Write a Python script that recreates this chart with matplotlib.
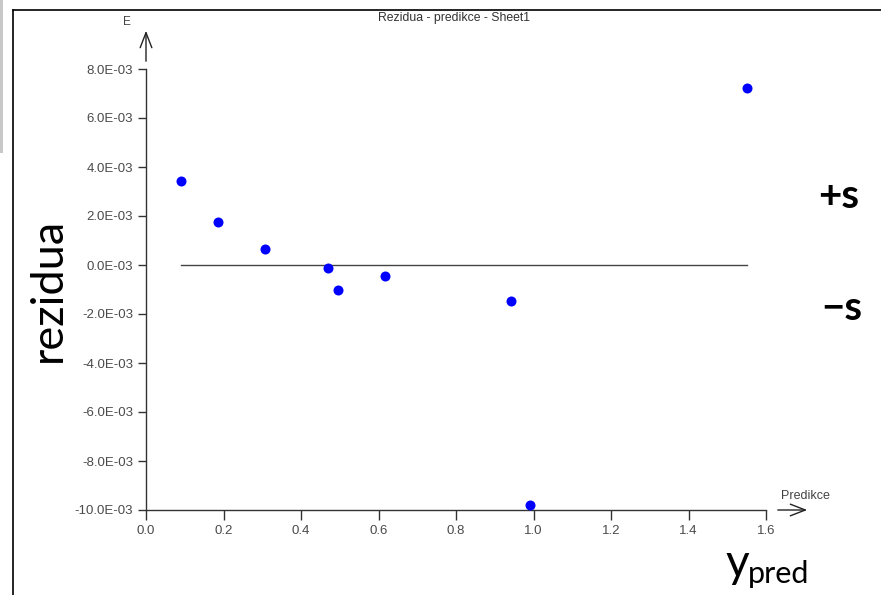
import matplotlib; matplotlib.use("Agg")
import matplotlib.pyplot as plt
from matplotlib.lines import Line2D
from matplotlib.patches import Rectangle, FancyArrowPatch

# residuals vs predicted values
y_pred = [0.090, 0.186, 0.307, 0.470, 0.495, 0.617, 0.942, 0.991, 1.551]
resid = [3.43e-3, 1.76e-3, 0.65e-3, -0.12e-3, -1.02e-3, -0.45e-3, -1.47e-3, -9.80e-3, 7.22e-3]
xticks = [0.0, 0.2, 0.4, 0.6, 0.8, 1.0, 1.2, 1.4, 1.6]
yticks = [-10e-3, -8e-3, -6e-3, -4e-3, -2e-3, 0.0, 2e-3, 4e-3, 6e-3, 8e-3]

W, H = 881, 595
def fx(px): return px / W
def fy(py): return 1 - py / H

fig = plt.figure(figsize=(W / 100, H / 100), dpi=100)
ax = fig.add_axes([fx(146), fy(510), fx(766) - fx(146), fy(69) - fy(510)])
ax.set_xlim(0, 1.6); ax.set_ylim(-10e-3, 8e-3)
for s in ("top", "right"): ax.spines[s].set_visible(False)
for s in ("left", "bottom"): ax.spines[s].set_color("#333333"); ax.spines[s].set_linewidth(1.0)

ax.plot([min(y_pred), max(y_pred)], [0, 0], color="#444444", lw=1.0, zorder=2)
ax.scatter(y_pred, resid, s=52, color="#0000ff", zorder=3, clip_on=False, linewidths=0)

tf = dict(family="Liberation Sans", size=9.5, color="#4a4a4a")
ax.set_xticks(xticks); ax.set_xticklabels(["%.1f" % v for v in xticks], **tf)
ax.set_yticks(yticks); ax.set_yticklabels(["%.1fE-03" % (v * 1000) for v in yticks], **tf)
ax.tick_params(axis="x", length=7.5, width=1, color="#333333", pad=3)
ax.tick_params(axis="y", length=5.8, width=1, color="#333333", pad=3.5)

# axis arrows
for p0, p1 in (((fx(146), fy(64)), (fx(146), fy(28))), ((fx(775), fy(510)), (fx(810), fy(510)))):
    fig.add_artist(FancyArrowPatch(p0, p1, transform=fig.transFigure, arrowstyle="->,head_length=10.8,head_width=4.2",
                                   mutation_scale=1, color="#222222", lw=1.0))

fig.text(fx(127), fy(22), "E", ha="center", va="center", family="Liberation Sans", size=8.5, color="#444444")
fig.text(fx(805), fy(496), "Predikce", ha="center", va="center", family="Liberation Sans", size=9, color="#444444")
fig.text(fx(454), fy(18), "Rezidua - predikce - Sheet1", ha="center", va="center", family="Liberation Sans", size=8.8, color="#333333")

# big hand-added labels
fig.text(fx(48), fy(290), "rezidua", rotation=90, ha="center", va="center", family="Lato", size=32.5, color="black")
fig.text(fx(726), fy(577), "y", ha="left", va="baseline", family="Lato", size=33, color="black")
fig.text(fx(748), fy(583), "pred", ha="left", va="baseline", family="Lato", size=22, color="black")
fig.text(fx(839), fy(197), "+s", ha="center", va="center", family="Lato", weight="bold", size=29, color="black")
fig.text(fx(842), fy(308), "\u2212s", ha="center", va="center", family="Lato", weight="bold", size=29, color="black")

# window frame
fig.add_artist(Line2D([fx(13), 1], [fy(10), fy(10)], transform=fig.transFigure, color="black", lw=1.2))
fig.add_artist(Line2D([fx(13), fx(13)], [fy(10), 0], transform=fig.transFigure, color="black", lw=1.2))
fig.add_artist(Rectangle((0, fy(153)), fx(3), fy(0) - fy(153), transform=fig.transFigure, color="#c8c8c8", lw=0))

fig.savefig("out.png", dpi=100)
